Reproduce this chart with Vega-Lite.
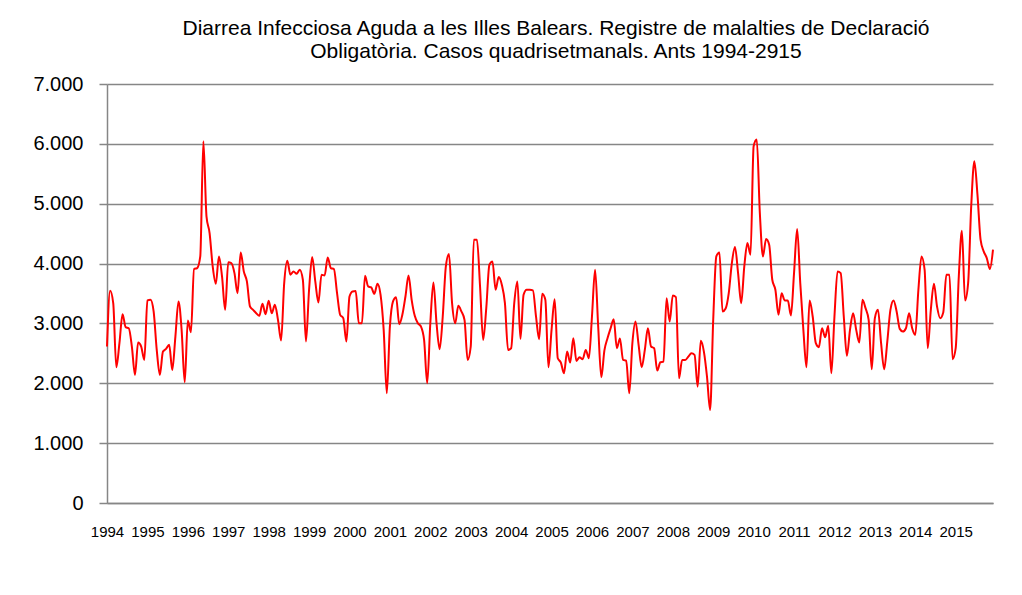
{
  "$schema": "https://vega.github.io/schema/vega-lite/v6.json",
  "width": 886,
  "height": 419,
  "autosize": {"type": "none"},
  "padding": {"left": 107, "top": 84, "right": 29, "bottom": 92},
  "background": "white",
  "title": {
    "text": ["Diarrea Infecciosa Aguda a les Illes Balears. Registre de malalties de Declaració", "Obligatòria. Casos quadrisetmanals. Ants 1994-2915"],
    "font": "Liberation Sans",
    "fontSize": 21,
    "fontWeight": "normal",
    "color": "#000000",
    "anchor": "middle",
    "lineHeight": 23,
    "offset": 12,
    "dx": 6
  },
  "data": {"values": [
    {"p":"1994-01","v":2614},{"p":"1994-02","v":3545},{"p":"1994-03","v":3340},{"p":"1994-04","v":2268},{"p":"1994-05","v":2670},{"p":"1994-06","v":3155},{"p":"1994-07","v":2937},{"p":"1994-08","v":2920},{"p":"1994-09","v":2614},{"p":"1994-10","v":2140},{"p":"1994-11","v":2680},{"p":"1994-12","v":2614},{"p":"1994-13","v":2390},
    {"p":"1995-01","v":3384},{"p":"1995-02","v":3395},{"p":"1995-03","v":3200},{"p":"1995-04","v":2558},{"p":"1995-05","v":2140},{"p":"1995-06","v":2530},{"p":"1995-07","v":2575},{"p":"1995-08","v":2642},{"p":"1995-09","v":2223},{"p":"1995-10","v":2781},{"p":"1995-11","v":3367},{"p":"1995-12","v":2893},{"p":"1995-13","v":2017},
    {"p":"1996-01","v":3049},{"p":"1996-02","v":2854},{"p":"1996-03","v":3908},{"p":"1996-04","v":3925},{"p":"1996-05","v":4120},{"p":"1996-06","v":6045},{"p":"1996-07","v":4790},{"p":"1996-08","v":4510},{"p":"1996-09","v":3953},{"p":"1996-10","v":3662},{"p":"1996-11","v":4120},{"p":"1996-12","v":3785},{"p":"1996-13","v":3227},
    {"p":"1997-01","v":4020},{"p":"1997-02","v":4008},{"p":"1997-03","v":3841},{"p":"1997-04","v":3506},{"p":"1997-05","v":4187},{"p":"1997-06","v":3869},{"p":"1997-07","v":3702},{"p":"1997-08","v":3283},{"p":"1997-09","v":3227},{"p":"1997-10","v":3171},{"p":"1997-11","v":3127},{"p":"1997-12","v":3328},{"p":"1997-13","v":3155},
    {"p":"1998-01","v":3378},{"p":"1998-02","v":3171},{"p":"1998-03","v":3311},{"p":"1998-04","v":3060},{"p":"1998-05","v":2714},{"p":"1998-06","v":3674},{"p":"1998-07","v":4047},{"p":"1998-08","v":3813},{"p":"1998-09","v":3869},{"p":"1998-10","v":3830},{"p":"1998-11","v":3897},{"p":"1998-12","v":3730},{"p":"1998-13","v":2697},
    {"p":"1999-01","v":3562},{"p":"1999-02","v":4109},{"p":"1999-03","v":3702},{"p":"1999-04","v":3350},{"p":"1999-05","v":3813},{"p":"1999-06","v":3802},{"p":"1999-07","v":4103},{"p":"1999-08","v":3925},{"p":"1999-09","v":3908},{"p":"1999-10","v":3506},{"p":"1999-11","v":3144},{"p":"1999-12","v":3088},{"p":"1999-13","v":2697},
    {"p":"2000-01","v":3450},{"p":"2000-02","v":3534},{"p":"2000-03","v":3540},{"p":"2000-04","v":3004},{"p":"2000-05","v":3004},{"p":"2000-06","v":3796},{"p":"2000-07","v":3618},{"p":"2000-08","v":3601},{"p":"2000-09","v":3495},{"p":"2000-10","v":3662},{"p":"2000-11","v":3478},{"p":"2000-12","v":2893},{"p":"2000-13","v":1833},
    {"p":"2001-01","v":2948},{"p":"2001-02","v":3367},{"p":"2001-03","v":3439},{"p":"2001-04","v":2987},{"p":"2001-05","v":3144},{"p":"2001-06","v":3450},{"p":"2001-07","v":3802},{"p":"2001-08","v":3395},{"p":"2001-09","v":3127},{"p":"2001-10","v":3004},{"p":"2001-11","v":2948},{"p":"2001-12","v":2725},{"p":"2001-13","v":2000},
    {"p":"2002-01","v":3004},{"p":"2002-02","v":3685},{"p":"2002-03","v":3004},{"p":"2002-04","v":2569},{"p":"2002-05","v":3116},{"p":"2002-06","v":3953},{"p":"2002-07","v":4159},{"p":"2002-08","v":3339},{"p":"2002-09","v":3004},{"p":"2002-10","v":3294},{"p":"2002-11","v":3200},{"p":"2002-12","v":3060},{"p":"2002-13","v":2390},
    {"p":"2003-01","v":2614},{"p":"2003-02","v":4399},{"p":"2003-03","v":4399},{"p":"2003-04","v":3618},{"p":"2003-05","v":2725},{"p":"2003-06","v":3255},{"p":"2003-07","v":3981},{"p":"2003-08","v":4036},{"p":"2003-09","v":3562},{"p":"2003-10","v":3774},{"p":"2003-11","v":3646},{"p":"2003-12","v":3339},{"p":"2003-13","v":2558},
    {"p":"2004-01","v":2586},{"p":"2004-02","v":3339},{"p":"2004-03","v":3702},{"p":"2004-04","v":2742},{"p":"2004-05","v":3478},{"p":"2004-06","v":3562},{"p":"2004-07","v":3562},{"p":"2004-08","v":3551},{"p":"2004-09","v":3116},{"p":"2004-10","v":2736},{"p":"2004-11","v":3495},{"p":"2004-12","v":3395},{"p":"2004-13","v":2268},
    {"p":"2005-01","v":2893},{"p":"2005-02","v":3406},{"p":"2005-03","v":2418},{"p":"2005-04","v":2346},{"p":"2005-05","v":2167},{"p":"2005-06","v":2530},{"p":"2005-07","v":2346},{"p":"2005-08","v":2753},{"p":"2005-09","v":2374},{"p":"2005-10","v":2435},{"p":"2005-11","v":2402},{"p":"2005-12","v":2558},{"p":"2005-13","v":2418},
    {"p":"2006-01","v":3116},{"p":"2006-02","v":3897},{"p":"2006-03","v":2948},{"p":"2006-04","v":2100},{"p":"2006-05","v":2550},{"p":"2006-06","v":2753},{"p":"2006-07","v":2920},{"p":"2006-08","v":3071},{"p":"2006-09","v":2586},{"p":"2006-10","v":2748},{"p":"2006-11","v":2390},{"p":"2006-12","v":2379},{"p":"2006-13","v":1833},
    {"p":"2007-01","v":2670},{"p":"2007-02","v":3032},{"p":"2007-03","v":2642},{"p":"2007-04","v":2268},{"p":"2007-05","v":2558},{"p":"2007-06","v":2920},{"p":"2007-07","v":2614},{"p":"2007-08","v":2586},{"p":"2007-09","v":2212},{"p":"2007-10","v":2351},{"p":"2007-11","v":2363},{"p":"2007-12","v":3422},{"p":"2007-13","v":3032},
    {"p":"2008-01","v":3467},{"p":"2008-02","v":3439},{"p":"2008-03","v":2084},{"p":"2008-04","v":2390},{"p":"2008-05","v":2390},{"p":"2008-06","v":2446},{"p":"2008-07","v":2502},{"p":"2008-08","v":2474},{"p":"2008-09","v":1944},{"p":"2008-10","v":2709},{"p":"2008-11","v":2530},{"p":"2008-12","v":2112},{"p":"2008-13","v":1554},
    {"p":"2009-01","v":3060},{"p":"2009-02","v":4120},{"p":"2009-03","v":4187},{"p":"2009-04","v":3200},{"p":"2009-05","v":3250},{"p":"2009-06","v":3506},{"p":"2009-07","v":4008},{"p":"2009-08","v":4276},{"p":"2009-09","v":3841},{"p":"2009-10","v":3339},{"p":"2009-11","v":3953},{"p":"2009-12","v":4343},{"p":"2009-13","v":4148},
    {"p":"2010-01","v":5961},{"p":"2010-02","v":6073},{"p":"2010-03","v":4845},{"p":"2010-04","v":4120},{"p":"2010-05","v":4410},{"p":"2010-06","v":4315},{"p":"2010-07","v":3730},{"p":"2010-08","v":3562},{"p":"2010-09","v":3144},{"p":"2010-10","v":3506},{"p":"2010-11","v":3384},{"p":"2010-12","v":3384},{"p":"2010-13","v":3133},
    {"p":"2011-01","v":3841},{"p":"2011-02","v":4577},{"p":"2011-03","v":3674},{"p":"2011-04","v":2893},{"p":"2011-05","v":2268},{"p":"2011-06","v":3384},{"p":"2011-07","v":3116},{"p":"2011-08","v":2670},{"p":"2011-09","v":2603},{"p":"2011-10","v":2920},{"p":"2011-11","v":2770},{"p":"2011-12","v":2960},{"p":"2011-13","v":2167},
    {"p":"2012-01","v":3116},{"p":"2012-02","v":3869},{"p":"2012-03","v":3841},{"p":"2012-04","v":3116},{"p":"2012-05","v":2458},{"p":"2012-06","v":2893},{"p":"2012-07","v":3171},{"p":"2012-08","v":2893},{"p":"2012-09","v":2680},{"p":"2012-10","v":3395},{"p":"2012-11","v":3255},{"p":"2012-12","v":3060},{"p":"2012-13","v":2234},
    {"p":"2013-01","v":3088},{"p":"2013-02","v":3227},{"p":"2013-03","v":2670},{"p":"2013-04","v":2234},{"p":"2013-05","v":2697},{"p":"2013-06","v":3227},{"p":"2013-07","v":3384},{"p":"2013-08","v":3200},{"p":"2013-09","v":2909},{"p":"2013-10","v":2865},{"p":"2013-11","v":2920},{"p":"2013-12","v":3171},{"p":"2013-13","v":2920},
    {"p":"2014-01","v":2809},{"p":"2014-02","v":3562},{"p":"2014-03","v":4120},{"p":"2014-04","v":3897},{"p":"2014-05","v":2586},{"p":"2014-06","v":3227},{"p":"2014-07","v":3662},{"p":"2014-08","v":3283},{"p":"2014-09","v":3088},{"p":"2014-10","v":3183},{"p":"2014-11","v":3813},{"p":"2014-12","v":3813},{"p":"2014-13","v":2402},
    {"p":"2015-01","v":2586},{"p":"2015-02","v":3785},{"p":"2015-03","v":4550},{"p":"2015-04","v":3384},{"p":"2015-05","v":3674},{"p":"2015-06","v":4968},{"p":"2015-07","v":5710},{"p":"2015-08","v":5152},{"p":"2015-09","v":4399},{"p":"2015-10","v":4204},{"p":"2015-11","v":4092},{"p":"2015-12","v":3908},{"p":"2015-13","v":4232}
  ]},
  "mark": {"type": "line", "color": "#ff0000", "strokeWidth": 2, "interpolate": "monotone"},
  "encoding": {
    "x": {
      "field": "p",
      "type": "ordinal",
      "sort": null,
      "scale": {"type": "point", "padding": 0},
      "axis": {
        "title": null,
        "values": ["1994-01","1995-01","1996-01","1997-01","1998-01","1999-01","2000-01","2001-01","2002-01","2003-01","2004-01","2005-01","2006-01","2007-01","2008-01","2009-01","2010-01","2011-01","2012-01","2013-01","2014-01","2015-01"],
        "labelExpr": "substring(datum.value, 0, 4)",
        "labelAngle": 0,
        "ticks": false,
        "grid": false,
        "domain": true,
        "domainColor": "#868686",
        "domainWidth": 1.5,
        "labelFont": "Liberation Sans",
        "labelFontSize": 15,
        "labelColor": "#000000",
        "labelPadding": 21
      }
    },
    "y": {
      "field": "v",
      "type": "quantitative",
      "scale": {"domain": [0, 7000], "nice": false},
      "axis": {
        "title": null,
        "values": [0, 1000, 2000, 3000, 4000, 5000, 6000, 7000],
        "labelExpr": "replace(format(datum.value, ','), ',', '.')",
        "tickSize": 8,
        "tickColor": "#868686",
        "tickWidth": 1.5,
        "domainColor": "#868686",
        "domainWidth": 1.5,
        "gridColor": "#868686",
        "gridWidth": 1.5,
        "labelFont": "Liberation Sans",
        "labelFontSize": 20,
        "labelColor": "#000000",
        "labelPadding": 16
      }
    }
  },
  "config": {"view": {"stroke": null}}
}
